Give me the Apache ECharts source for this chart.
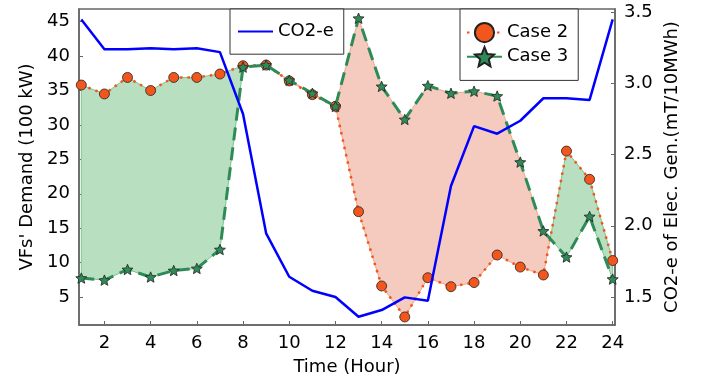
<!DOCTYPE html>
<html>
<head>
<meta charset="utf-8">
<script src="https://cdn.jsdelivr.net/npm/echarts@6/dist/echarts.min.js"></script>
<style>
  html, body { margin: 0; padding: 0; background: #fff; }
  #echart { width: 702px; height: 381px; }
</style>
</head>
<body>
<div id="echart"></div>
<script>
// hours 1..24
const hours = [1, 2, 3, 4, 5, 6, 7, 8, 9, 10, 11, 12, 13, 14, 15, 16, 17, 18, 19, 20, 21, 22, 23, 24];
const case2 = [35.8, 34.5, 36.9, 35.0, 36.9, 36.9, 37.4, 38.6, 38.7, 36.4, 34.4, 32.7,
  17.4, 6.6, 2.1, 7.8, 6.5, 7.1, 11.1, 9.35, 8.2, 26.2, 22.1, 10.3];
const case3 = [7.75, 7.45, 9.0, 7.9, 8.85, 9.15, 11.9, 38.4, 38.7, 36.5, 34.6, 32.7,
  45.5, 35.6, 30.8, 35.7, 34.6, 34.9, 34.2, 24.6, 14.6, 10.8, 16.7, 7.6];
const co2 = [3.45, 3.24, 3.24, 3.247, 3.24, 3.247, 3.22, 2.785, 1.947, 1.642, 1.544, 1.50,
  1.361, 1.408, 1.497, 1.473, 2.28, 2.70, 2.647, 2.738, 2.896, 2.896, 2.884, 3.45];
const xTicks = [2, 4, 6, 8, 10, 12, 14, 16, 18, 20, 22, 24];
const leftTicks = [5, 10, 15, 20, 25, 30, 35, 40, 45];
const rightTicks = [1.5, 2.0, 2.5, 3.0, 3.5];

const FONT = "DejaVu Sans";
const AXIS_COLOR = "#666";
const GREEN_FILL = "#b9dfc1";
const SALMON_FILL = "#f4cbbe";
const starPath = "path://M50,0L63.2,31.8L97.6,34.5L71.4,57L79.4,90.5L50,72.5L20.6,90.5L28.6,57L2.4,34.5L36.8,31.8Z";

// split the band between case2 and case3 into regions where one is above the other
function buildRegions() {
  let regions = [];
  let newRegion = (p, q) => ({ a: [p], b: [q], d: 0 });
  let cur = newRegion([hours[0], case2[0]], [hours[0], case3[0]]);
  for (let i = 0; i < hours.length - 1; i++) {
    let d0 = case2[i] - case3[i];
    let d1 = case2[i + 1] - case3[i + 1];
    cur.d += d0 + d1;
    if (d0 * d1 < 0) {
      let t = d0 / (d0 - d1);
      let x = hours[i] + t * (hours[i + 1] - hours[i]);
      let y = case2[i] + t * (case2[i + 1] - case2[i]);
      cur.a.push([x, y]);
      cur.b.push([x, y]);
      cur.d -= d1;
      regions.push(cur);
      cur = newRegion([x, y], [x, y]);
      cur.d += d1;
    }
    let p = [hours[i + 1], case2[i + 1]];
    let q = [hours[i + 1], case3[i + 1]];
    cur.a.push(p);
    cur.b.push(q);
    if (d1 === 0 && i < hours.length - 2) {
      regions.push(cur);
      cur = newRegion(p, q);
    }
  }
  regions.push(cur);
  return regions;
}
const regions = buildRegions();

let chart = echarts.init(document.getElementById("echart"));

let option = {
  animation: false,
  textStyle: { fontFamily: FONT },
  grid: {
    left: 79,
    right: 87,
    top: 9,
    bottom: 56,
    show: true,
    borderColor: AXIS_COLOR,
    borderWidth: 1.5,
  },
  legend: [
    {
      data: [{ name: "CO2-e", itemStyle: { opacity: 0 } }],
      orient: "vertical",
      left: 230,
      top: 9,
      padding: [13, 10, 13, 7],
      itemWidth: 35,
      itemHeight: 24,
      backgroundColor: "#fff",
      borderColor: "#333",
      borderWidth: 1,
      borderRadius: 0,
      textStyle: { fontSize: 18, fontFamily: FONT, color: "#000" },
    },
    {
      data: [
        { name: "Case 2" },
        { name: "Case 3", lineStyle: { type: "solid", width: 2 } },
      ],
      orient: "vertical",
      left: 460,
      top: 9,
      padding: [13, 10, 13, 6],
      itemGap: 3,
      itemWidth: 35,
      itemHeight: 24,
      backgroundColor: "#fff",
      borderColor: "#333",
      borderWidth: 1,
      borderRadius: 0,
      textStyle: { fontSize: 18, fontFamily: FONT, color: "#000" },
    },
  ],
  xAxis: {
    type: "value",
    min: 0.9,
    max: 24.1,
    name: "Time (Hour)",
    nameLocation: "middle",
    nameGap: 33,
    nameTextStyle: { fontSize: 18, fontFamily: FONT, color: "#000" },
    axisLine: { lineStyle: { color: AXIS_COLOR, width: 1.5 } },
    axisTick: { inside: true, length: 4, customValues: xTicks, lineStyle: { color: AXIS_COLOR } },
    axisLabel: { customValues: xTicks, fontSize: 18, fontFamily: FONT, color: "#000", margin: 9 },
    splitLine: { show: false },
  },
  yAxis: [
    {
      type: "value",
      min: 0.932,
      max: 46.845,
      position: "left",
      name: "VFs' Demand (100 kW)",
      nameLocation: "middle",
      nameRotate: 90,
      nameGap: 43,
      nameTextStyle: { fontSize: 18, fontFamily: FONT, color: "#000" },
      axisLine: { show: true, lineStyle: { color: AXIS_COLOR, width: 1.5 } },
      axisTick: { show: true, inside: true, length: 4, customValues: leftTicks, lineStyle: { color: AXIS_COLOR } },
      axisLabel: { customValues: leftTicks, fontSize: 18, fontFamily: FONT, color: "#000", margin: 9 },
      splitLine: { show: false },
    },
    {
      type: "value",
      min: 1.303,
      max: 3.523,
      position: "right",
      name: "CO2-e of Elec. Gen.(mT/10MWh)",
      nameLocation: "middle",
      nameRotate: 90,
      nameGap: 47,
      nameTextStyle: { fontSize: 18, fontFamily: FONT, color: "#000" },
      axisLine: { show: true, lineStyle: { color: AXIS_COLOR, width: 1.5 } },
      axisTick: { show: true, inside: true, length: 4, customValues: rightTicks, lineStyle: { color: AXIS_COLOR } },
      axisLabel: {
        customValues: rightTicks,
        fontSize: 18,
        fontFamily: FONT,
        color: "#000",
        margin: 9,
        formatter: (v) => v.toFixed(1),
      },
      splitLine: { show: false },
    },
  ],
  series: [
    {
      name: "band",
      type: "custom",
      silent: true,
      xAxisIndex: 0,
      yAxisIndex: 0,
      z: 1,
      data: [[hours[0], case2[0]]],
      renderItem: (params, api) => {
        let children = regions.map((r) => {
          let pts = r.a.concat(r.b.slice().reverse()).map((p) => api.coord(p));
          let above = r.d > 0;
          return {
            type: "polygon",
            shape: { points: pts },
            style: {
              fill: above ? GREEN_FILL : SALMON_FILL,
              stroke: above ? "#7cc58f" : "#f0a48a",
              lineWidth: 1,
            },
          };
        });
        return { type: "group", children: children };
      },
    },
    {
      name: "Case 2",
      type: "line",
      yAxisIndex: 0,
      z: 2,
      data: hours.map((h, i) => [h, case2[i]]),
      symbol: "circle",
      symbolSize: 10,
      itemStyle: { color: "#f2561d", borderColor: "#222", borderWidth: 0.8 },
      lineStyle: { color: "#f2561d", width: 2.5, type: [2.5, 5] },
    },
    {
      name: "Case 3",
      type: "line",
      yAxisIndex: 0,
      z: 3,
      data: hours.map((h, i) => [h, case3[i]]),
      symbol: starPath,
      symbolKeepAspect: true,
      symbolSize: 11,
      itemStyle: { color: "#2e8b57", borderColor: "#222", borderWidth: 0.8 },
      lineStyle: { color: "#2e8b57", width: 3, type: [13, 7] },
    },
    {
      name: "CO2-e",
      type: "line",
      yAxisIndex: 1,
      z: 4,
      data: hours.map((h, i) => [h, co2[i]]),
      symbol: "none",
      showSymbol: false,
      lineStyle: { color: "#0000ff", width: 2.5 },
      itemStyle: { color: "#0000ff" },
    },
  ],
};

chart.setOption(option);
window.onresize = () => {
  chart.resize();
};
</script>
</body>
</html>
